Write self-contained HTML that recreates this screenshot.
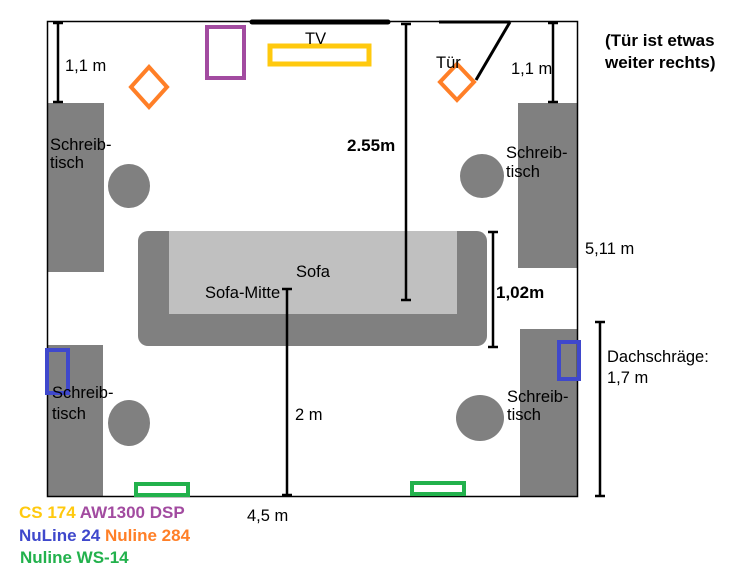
<!DOCTYPE html>
<html><head><meta charset="utf-8"><style>
html,body{margin:0;padding:0;background:#fff;}
svg{display:block}
text{font-family:"Liberation Sans",Arial,sans-serif;font-size:16.5px}
.b{font-weight:bold;font-size:17px}
</style></head><body>
<svg width="743" height="572" viewBox="0 0 743 572" xmlns="http://www.w3.org/2000/svg">
<rect x="0" y="0" width="743" height="572" fill="#fff"/>
<rect x="47" y="103" width="57" height="169" fill="#808080"/>
<rect x="47" y="345" width="56" height="151" fill="#808080"/>
<rect x="518" y="103" width="59" height="165" fill="#808080"/>
<rect x="520" y="329" width="57" height="167" fill="#808080"/>
<ellipse cx="129" cy="186" rx="21" ry="22" fill="#808080"/>
<ellipse cx="482" cy="176" rx="22" ry="22" fill="#808080"/>
<ellipse cx="129" cy="423" rx="21" ry="23" fill="#808080"/>
<ellipse cx="480" cy="418" rx="24" ry="23" fill="#808080"/>
<rect x="138" y="231" width="349" height="115" rx="10" fill="#808080"/>
<rect x="169" y="231" width="288" height="83" fill="#c0c0c0"/>
<rect x="47.5" y="21.5" width="530" height="475" fill="none" stroke="#000" stroke-width="1.5"/>
<line x1="252" y1="22" x2="388" y2="22" stroke="#000" stroke-width="5" stroke-linecap="round"/>
<line x1="439" y1="22" x2="510" y2="22" stroke="#000" stroke-width="3"/>
<line x1="510" y1="22" x2="476" y2="80" stroke="#000" stroke-width="3"/>
<rect x="207" y="27" width="37" height="51" fill="none" stroke="#a24ba0" stroke-width="4"/>
<rect x="270" y="46" width="99" height="18" fill="none" stroke="#ffc90e" stroke-width="5"/>
<polygon points="149,67 167,87 149,107 131,87" fill="none" stroke="#ff7f27" stroke-width="4"/>
<polygon points="457,64 474,82 457,100 440,82" fill="none" stroke="#ff7f27" stroke-width="4"/>
<rect x="47" y="350" width="21" height="43" fill="none" stroke="#3f48cc" stroke-width="4"/>
<rect x="559" y="342" width="20" height="37" fill="none" stroke="#3f48cc" stroke-width="4"/>
<rect x="136" y="484" width="52" height="11" fill="none" stroke="#22b14c" stroke-width="4"/>
<rect x="412" y="483" width="52" height="11" fill="none" stroke="#22b14c" stroke-width="4"/>
<g stroke="#000" stroke-width="2.5">
<line x1="58" y1="23" x2="58" y2="102"/><line x1="53" y1="23" x2="63" y2="23"/><line x1="53" y1="102" x2="63" y2="102"/>
<line x1="553" y1="23" x2="553" y2="102"/><line x1="548" y1="23" x2="558" y2="23"/><line x1="548" y1="102" x2="558" y2="102"/>
<line x1="406" y1="24" x2="406" y2="300"/><line x1="401" y1="24" x2="411" y2="24"/><line x1="401" y1="300" x2="411" y2="300"/>
<line x1="493" y1="232" x2="493" y2="347"/><line x1="488" y1="232" x2="498" y2="232"/><line x1="488" y1="347" x2="498" y2="347"/>
<line x1="287" y1="289" x2="287" y2="496"/><line x1="282" y1="289" x2="292" y2="289"/><line x1="282" y1="495" x2="292" y2="495"/>
<line x1="600" y1="322" x2="600" y2="496"/><line x1="595" y1="322" x2="605" y2="322"/><line x1="595" y1="496" x2="605" y2="496"/>
</g>
<text x="305" y="44">TV</text>
<text x="436" y="68">Tür</text>
<text x="65" y="71">1,1 m</text>
<text x="511" y="74">1,1 m</text>
<text x="50" y="150">Schreib-</text><text x="50" y="168">tisch</text>
<text x="506" y="158">Schreib-</text><text x="506" y="177">tisch</text>
<text x="52" y="398">Schreib-</text><text x="52" y="419">tisch</text>
<text x="507" y="402">Schreib-</text><text x="507" y="420">tisch</text>
<text x="347" y="151" class="b">2.55m</text>
<text x="296" y="277">Sofa</text>
<text x="205" y="298">Sofa-Mitte</text>
<text x="496" y="298" class="b">1,02m</text>
<text x="585" y="254">5,11 m</text>
<text x="295" y="420">2 m</text>
<text x="247" y="521">4,5 m</text>
<text x="607" y="362">Dachschräge:</text>
<text x="607" y="383">1,7 m</text>
<text x="605" y="46" class="b">(Tür ist etwas</text>
<text x="605" y="68" class="b">weiter rechts)</text>
<text x="19" y="518" class="b"><tspan style="fill:#ffc90e">CS 174</tspan> <tspan style="fill:#a24ba0">AW1300 DSP</tspan></text>
<text x="19" y="541" class="b"><tspan style="fill:#3f48cc">NuLine 24</tspan> <tspan style="fill:#ff7f27">Nuline 284</tspan></text>
<text x="20" y="563" class="b" style="fill:#22b14c">Nuline WS-14</text>
</svg>
</body></html>
